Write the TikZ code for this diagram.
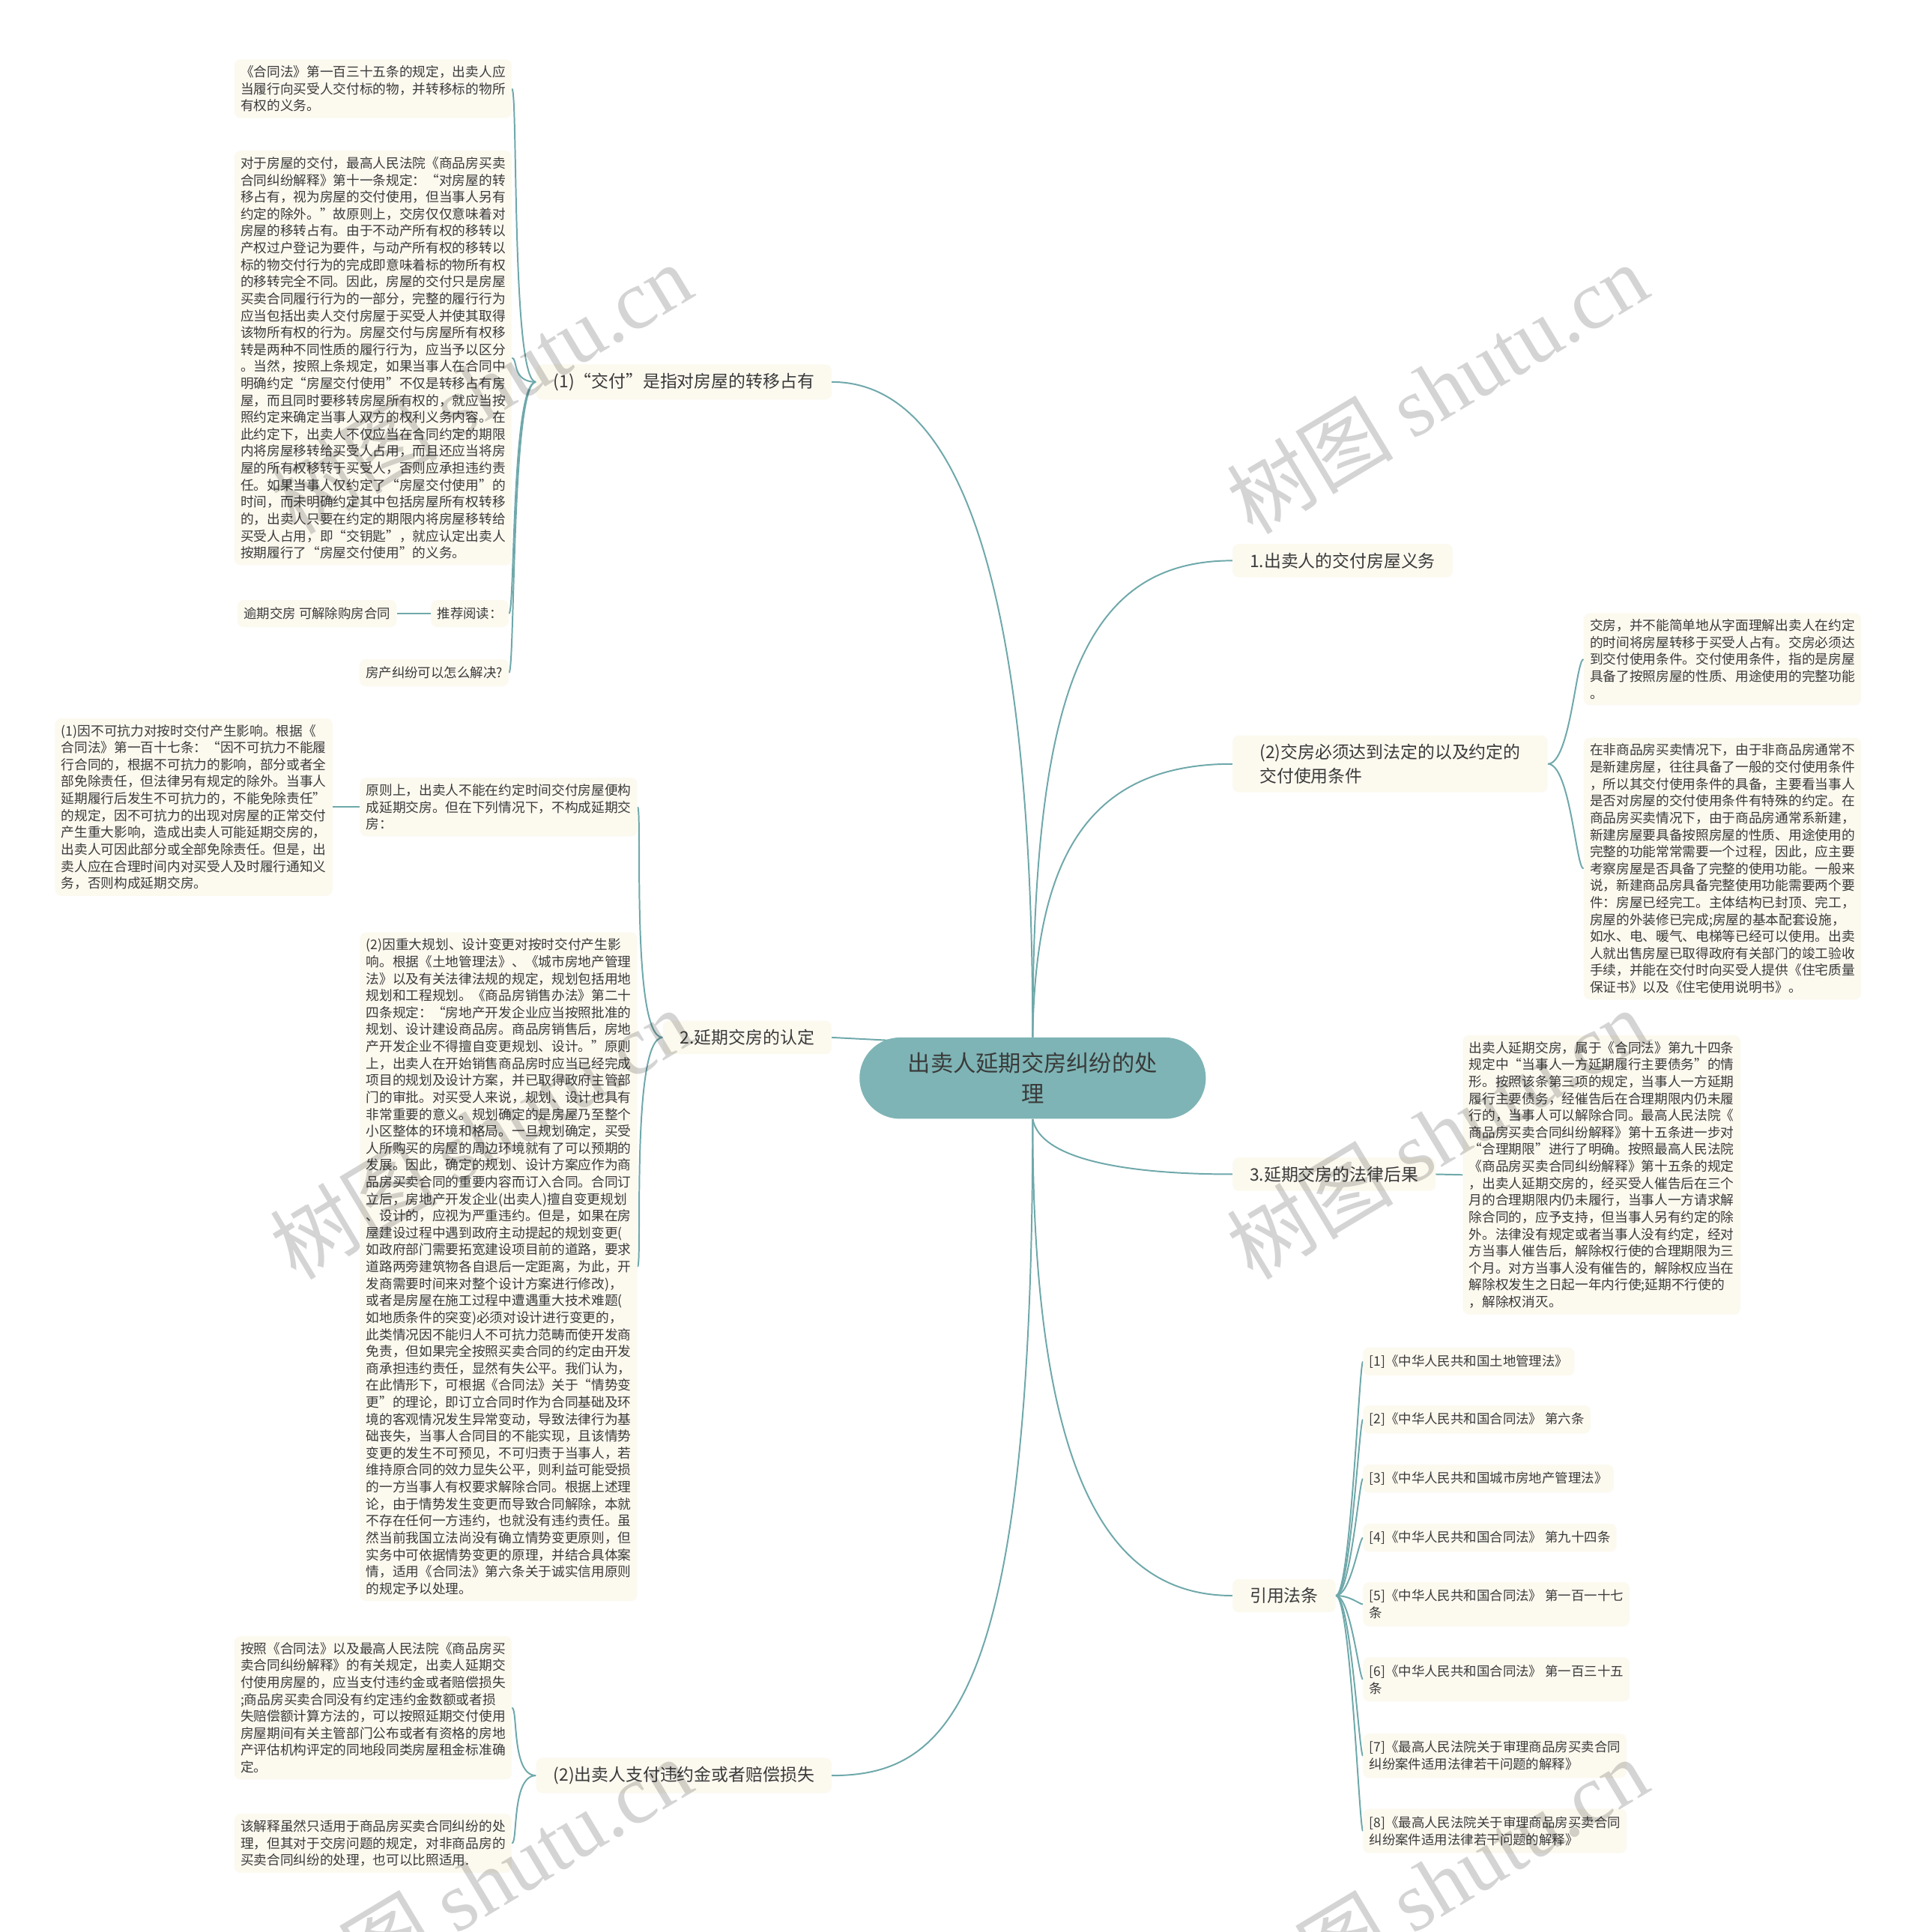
\documentclass[tikz,border=0pt]{standalone}
\usepackage{fontspec}
\setmainfont{Noto Sans CJK SC}
\newfontfamily\wmfont{Liberation Serif}
\usepackage{tikz}
\usetikzlibrary{positioning,calc,backgrounds}
\definecolor{topicfill}{HTML}{7EB4B5}
\definecolor{linkcol}{HTML}{6FA8AA}
\definecolor{notefill}{HTML}{FCF9EF}
\definecolor{inkdark}{HTML}{3A3A3A}
\tikzset{
    topic/.style={rectangle, rounded corners=33pt, fill=topicfill, minimum width=281pt, minimum height=66pt, align=center, font=\fontsize{18.4}{25}\selectfont, text=inkdark},
    branch/.style={rectangle, rounded corners=5pt, fill=notefill, inner xsep=14pt, inner ysep=7pt, align=left, font=\fontsize{13.9}{19}\selectfont, text=inkdark},
    note/.style={rectangle, rounded corners=5pt, fill=notefill, inner xsep=5pt, inner ysep=5pt, align=left, font=\fontsize{10.75}{13.75}\selectfont, text=inkdark},
    lawref/.style={note, font=\fontsize{10.6}{14}\selectfont, inner ysep=6pt},
    link/.style={draw=linkcol, line width=1.2pt},
    wmark/.style={rotate=31, text=black, opacity=0.17, font=\fontsize{68}{68}\selectfont}
}

\begin{document}
\begin{tikzpicture}[x=1pt, y=-1pt]
\useasboundingbox (0,0) rectangle (1556,1568);

% centre topic
\node[topic] (root) at (838,875) {出卖人延期交房纠纷的处\\理};

% main branches
\node[branch, anchor=east] (delivery) at (675,310) {(1)“交付”是指对房屋的转移占有};
\node[branch, anchor=east] (recog) at (675,842) {2.延期交房的认定};
\node[branch, anchor=east] (penalty) at (675,1441) {(2)出卖人支付违约金或者赔偿损失};
\node[branch, anchor=west] (duty) at (1000,455) {1.出卖人的交付房屋义务};
\node[branch, anchor=west, inner xsep=22pt] (cond) at (1000,620) {(2)交房必须达到法定的以及约定的\\交付使用条件};
\node[branch, anchor=west] (conseq) at (1000,953) {3.延期交房的法律后果};
\node[branch, anchor=west] (laws) at (1000,1295) {引用法条};

% notes of (1)
\node[note, anchor=west] (art135) at (190,72) {《合同法》第一百三十五条的规定，出卖人应\\当履行向买受人交付标的物，并转移标的物所\\有权的义务。};
\node[note, anchor=west] (occupy) at (190,290.5) {对于房屋的交付，最高人民法院《商品房买卖\\合同纠纷解释》第十一条规定：“对房屋的转\\移占有，视为房屋的交付使用，但当事人另有\\约定的除外。”故原则上，交房仅仅意味着对\\房屋的移转占有。由于不动产所有权的移转以\\产权过户登记为要件，与动产所有权的移转以\\标的物交付行为的完成即意味着标的物所有权\\的移转完全不同。因此，房屋的交付只是房屋\\买卖合同履行行为的一部分，完整的履行行为\\应当包括出卖人交付房屋于买受人并使其取得\\该物所有权的行为。房屋交付与房屋所有权移\\转是两种不同性质的履行行为，应当予以区分\\。当然，按照上条规定，如果当事人在合同中\\明确约定“房屋交付使用”不仅是转移占有房\\屋，而且同时要移转房屋所有权的，就应当按\\照约定来确定当事人双方的权利义务内容。在\\此约定下，出卖人不仅应当在合同约定的期限\\内将房屋移转给买受人占用，而且还应当将房\\屋的所有权移转于买受人，否则应承担违约责\\任。如果当事人仅约定了“房屋交付使用”的\\时间，而未明确约定其中包括房屋所有权转移\\的，出卖人只要在约定的期限内将房屋移转给\\买受人占用，即“交钥匙”，就应认定出卖人\\按期履行了“房屋交付使用”的义务。};
\node[lawref, anchor=east] (readhead) at (413,498) {推荐阅读：};
\node[lawref, anchor=east] (readlink) at (322,498) {逾期交房 可解除购房合同};
\node[lawref, anchor=east] (readq) at (413,546) {房产纠纷可以怎么解决?};

% notes of 2.
\node[note, anchor=west] (rule) at (292,655) {原则上，出卖人不能在约定时间交付房屋便构\\成延期交房。但在下列情况下，不构成延期交\\房：};
\node[note, anchor=east] (force) at (270,655) {(1)因不可抗力对按时交付产生影响。根据《\\合同法》第一百十七条：“因不可抗力不能履\\行合同的，根据不可抗力的影响，部分或者全\\部免除责任，但法律另有规定的除外。当事人\\延期履行后发生不可抗力的，不能免除责任”\\的规定，因不可抗力的出现对房屋的正常交付\\产生重大影响，造成出卖人可能延期交房的，\\出卖人可因此部分或全部免除责任。但是，出\\卖人应在合理时间内对买受人及时履行通知义\\务，否则构成延期交房。};
\node[note, anchor=west] (plan) at (292,1028) {(2)因重大规划、设计变更对按时交付产生影\\响。根据《土地管理法》、《城市房地产管理\\法》以及有关法律法规的规定，规划包括用地\\规划和工程规划。《商品房销售办法》第二十\\四条规定：“房地产开发企业应当按照批准的\\规划、设计建设商品房。商品房销售后，房地\\产开发企业不得擅自变更规划、设计。”原则\\上，出卖人在开始销售商品房时应当已经完成\\项目的规划及设计方案，并已取得政府主管部\\门的审批。对买受人来说，规划、设计也具有\\非常重要的意义。规划确定的是房屋乃至整个\\小区整体的环境和格局。一旦规划确定，买受\\人所购买的房屋的周边环境就有了可以预期的\\发展。因此，确定的规划、设计方案应作为商\\品房买卖合同的重要内容而订入合同。合同订\\立后，房地产开发企业(出卖人)擅自变更规划\\、设计的，应视为严重违约。但是，如果在房\\屋建设过程中遇到政府主动提起的规划变更(\\如政府部门需要拓宽建设项目前的道路，要求\\道路两旁建筑物各自退后一定距离，为此，开\\发商需要时间来对整个设计方案进行修改)，\\或者是房屋在施工过程中遭遇重大技术难题(\\如地质条件的突变)必须对设计进行变更的，\\此类情况因不能归人不可抗力范畴而使开发商\\免责，但如果完全按照买卖合同的约定由开发\\商承担违约责任，显然有失公平。我们认为，\\在此情形下，可根据《合同法》关于“情势变\\更”的理论，即订立合同时作为合同基础及环\\境的客观情况发生异常变动，导致法律行为基\\础丧失，当事人合同目的不能实现，且该情势\\变更的发生不可预见，不可归责于当事人，若\\维持原合同的效力显失公平，则利益可能受损\\的一方当事人有权要求解除合同。根据上述理\\论，由于情势发生变更而导致合同解除，本就\\不存在任何一方违约，也就没有违约责任。虽\\然当前我国立法尚没有确立情势变更原则，但\\实务中可依据情势变更的原理，并结合具体案\\情，适用《合同法》第六条关于诚实信用原则\\的规定予以处理。};

% notes of (2) penalty
\node[note, anchor=west] (penal1) at (190,1386) {按照《合同法》以及最高人民法院《商品房买\\卖合同纠纷解释》的有关规定，出卖人延期交\\付使用房屋的，应当支付违约金或者赔偿损失\\;商品房买卖合同没有约定违约金数额或者损\\失赔偿额计算方法的，可以按照延期交付使用\\房屋期间有关主管部门公布或者有资格的房地\\产评估机构评定的同地段同类房屋租金标准确\\定。};
\node[note, anchor=west] (penal2) at (190,1496) {该解释虽然只适用于商品房买卖合同纠纷的处\\理，但其对于交房问题的规定，对非商品房的\\买卖合同纠纷的处理，也可以比照适用.};

% notes of (2) cond
\node[note, anchor=west] (condA) at (1285,535) {交房，并不能简单地从字面理解出卖人在约定\\的时间将房屋转移于买受人占有。交房必须达\\到交付使用条件。交付使用条件，指的是房屋\\具备了按照房屋的性质、用途使用的完整功能\\。};
\node[note, anchor=west] (condB) at (1285,705) {在非商品房买卖情况下，由于非商品房通常不\\是新建房屋，往往具备了一般的交付使用条件\\，所以其交付使用条件的具备，主要看当事人\\是否对房屋的交付使用条件有特殊的约定。在\\商品房买卖情况下，由于商品房通常系新建，\\新建房屋要具备按照房屋的性质、用途使用的\\完整的功能常常需要一个过程，因此，应主要\\考察房屋是否具备了完整的使用功能。一般来\\说，新建商品房具备完整使用功能需要两个要\\件：房屋已经完工。主体结构已封顶、完工，\\房屋的外装修已完成;房屋的基本配套设施，\\如水、电、暖气、电梯等已经可以使用。出卖\\人就出售房屋已取得政府有关部门的竣工验收\\手续，并能在交付时向买受人提供《住宅质量\\保证书》以及《住宅使用说明书》。};

% note of 3.
\node[note, anchor=west] (term) at (1187,953.5) {出卖人延期交房，属于《合同法》第九十四条\\规定中“当事人一方延期履行主要债务”的情\\形。按照该条第三项的规定，当事人一方延期\\履行主要债务，经催告后在合理期限内仍未履\\行的，当事人可以解除合同。最高人民法院《\\商品房买卖合同纠纷解释》第十五条进一步对\\“合理期限”进行了明确。按照最高人民法院\\《商品房买卖合同纠纷解释》第十五条的规定\\，出卖人延期交房的，经买受人催告后在三个\\月的合理期限内仍未履行，当事人一方请求解\\除合同的，应予支持，但当事人另有约定的除\\外。法律没有规定或者当事人没有约定，经对\\方当事人催告后，解除权行使的合理期限为三\\个月。对方当事人没有催告的，解除权应当在\\解除权发生之日起一年内行使;延期不行使的\\，解除权消灭。};

% cited laws
\node[lawref, anchor=west] (ref1) at (1106,1105) {[1]《中华人民共和国土地管理法》};
\node[lawref, anchor=west] (ref2) at (1106,1152) {[2]《中华人民共和国合同法》 第六条};
\node[lawref, anchor=west] (ref3) at (1106,1200) {[3]《中华人民共和国城市房地产管理法》};
\node[lawref, anchor=west] (ref4) at (1106,1248) {[4]《中华人民共和国合同法》 第九十四条};
\node[lawref, anchor=west] (ref5) at (1106,1302) {[5]《中华人民共和国合同法》 第一百一十七\\条};
\node[lawref, anchor=west] (ref6) at (1106,1363) {[6]《中华人民共和国合同法》 第一百三十五\\条};
\node[lawref, anchor=west] (ref7) at (1106,1425) {[7]《最高人民法院关于审理商品房买卖合同\\纠纷案件适用法律若干问题的解释》};
\node[lawref, anchor=west] (ref8) at (1106,1486) {[8]《最高人民法院关于审理商品房买卖合同\\纠纷案件适用法律若干问题的解释》};

% connectors
\begin{scope}[on background layer]
\fill[white] (0,0) rectangle (1556,1568);
\draw[link] (root.north) .. controls (838,560) and (880,455) .. (duty.west);
\draw[link] (root.north) .. controls (840,700) and (880,620) .. (cond.west);
\draw[link] (root.north) .. controls (838,420) and (760,310) .. (delivery.east);
\draw[link] (recog.east) -- ($(root.north west)+(33,3)$);
\draw[link] (root.south) .. controls (845,945) and (930,953) .. (conseq.west);
\draw[link] (root.south) .. controls (838,1200) and (900,1295) .. (laws.west);
\draw[link] (root.south) .. controls (838,1380) and (770,1441) .. (penalty.east);
\foreach \n in {art135,occupy,readhead,readq}
    \draw[link] (delivery.west) .. controls +(-20,0) and +(5,0) .. (\n.east);
\draw[link] (readhead.west) -- (readlink.east);
\foreach \n in {rule,plan}
    \draw[link] (recog.west) .. controls +(-26,0) and +(4,0) .. (\n.east);
\draw[link] (rule.west) -- (force.east);
\foreach \n in {penal1,penal2}
    \draw[link] (penalty.west) .. controls +(-20,0) and +(5,0) .. (\n.east);
\foreach \n in {condA,condB}
    \draw[link] (cond.east) .. controls +(18,0) and +(-6,0) .. (\n.west);
\draw[link] (conseq.east) -- (term.west);
\foreach \n in {ref1,ref2,ref3,ref4,ref5,ref6,ref7,ref8}
    \draw[link] (laws.east) .. controls +(12,0) and +(-3,0) .. (\n.west);
\end{scope}

% watermark
\foreach \wx/\wy [count=\i] in {390/315, 1166/315, 390/920, 1166/920, 390/1528, 1166/1528}
    \node[wmark] (wm\i) at (\wx,\wy) {树图 {\wmfont shutu.cn}};

\end{tikzpicture}
\end{document}
